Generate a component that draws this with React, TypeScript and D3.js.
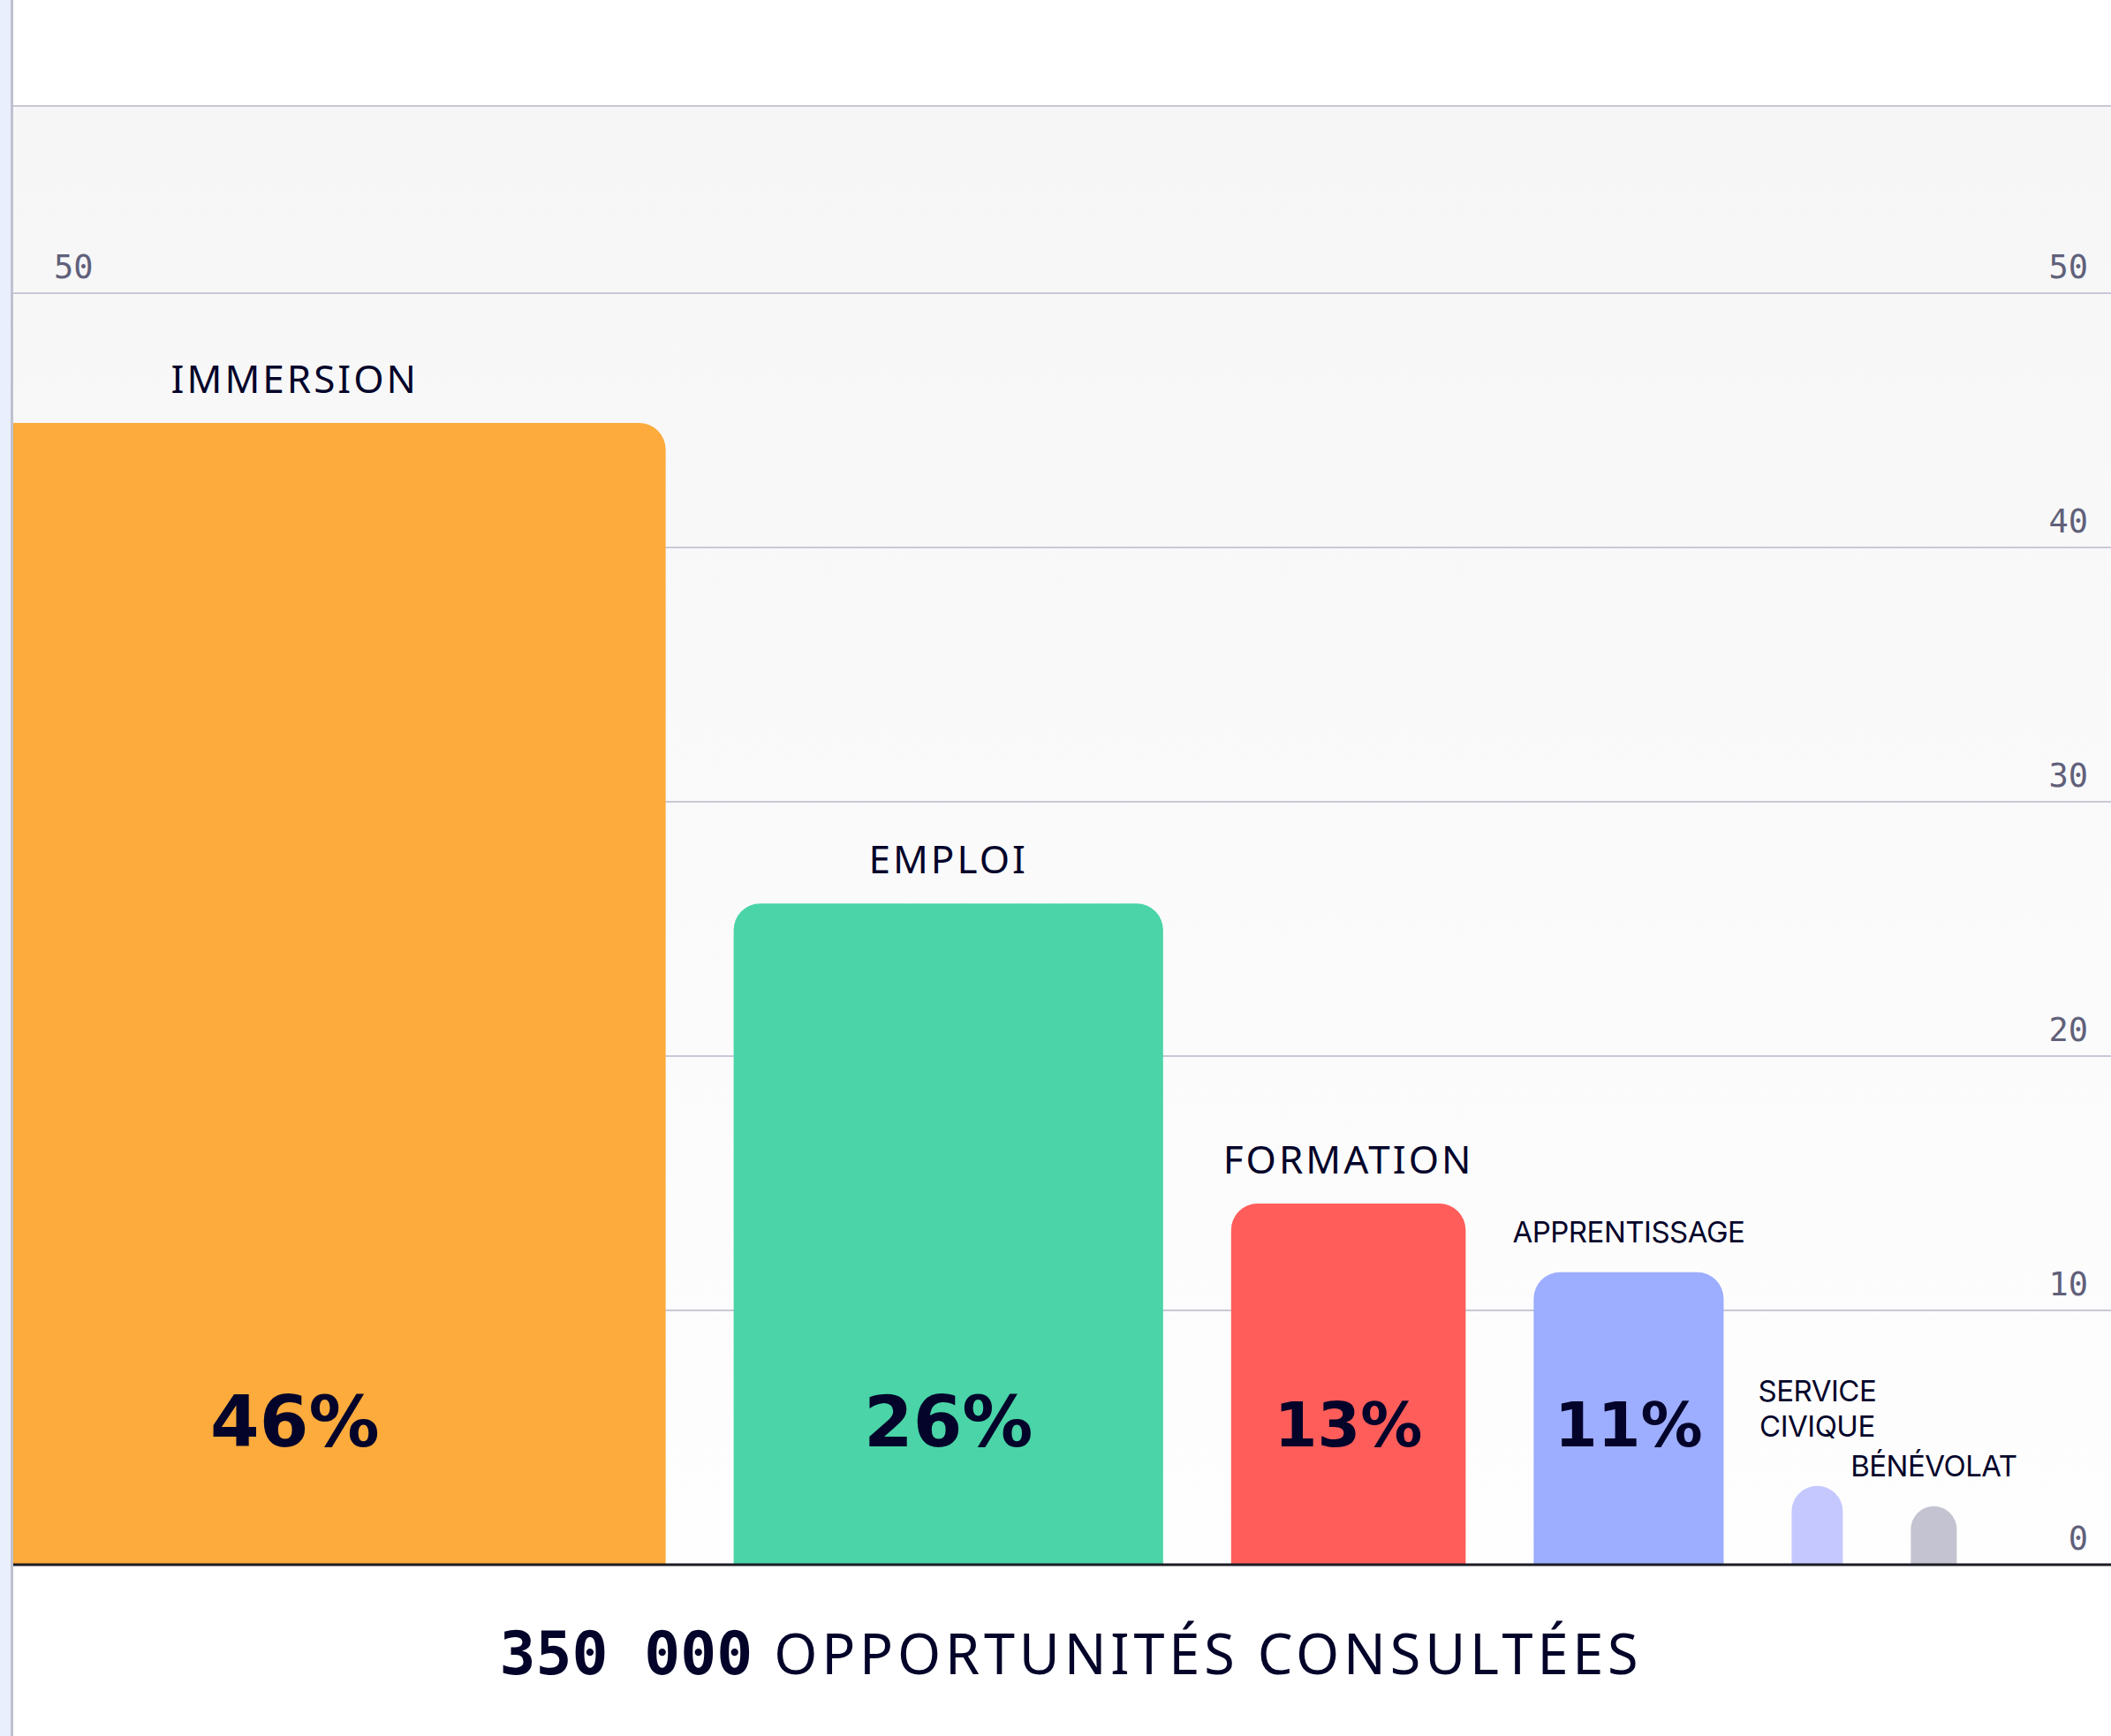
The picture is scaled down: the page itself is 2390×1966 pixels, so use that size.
import React, { useEffect, useRef } from "react";
import * as d3 from "d3";

// chart data
const categories = ["IMMERSION", "EMPLOI", "FORMATION", "APPRENTISSAGE", "SERVICE CIVIQUE", "BÉNÉVOLAT"];
const values = [44.9, 26.0, 14.2, 11.5, 3.1, 2.3];
const shares = [46, 26, 13, 11, null, null];
const colors = ["#fcab3c", "#4ad4a7", "#ff5d5a", "#9dadff", "#c5c8ff", "#c3c3d1"];
const yTicks = [0, 10, 20, 30, 40, 50];
const totalLabel = "350 000";
const captionLabel = "OPPORTUNITÉS CONSULTÉES";

const W = 2390;
const H = 1966;
const INK = "#04042a";

const drawChart = (node: SVGSVGElement) => {
    const svg = d3.select(node);
    svg.selectAll("*").remove();

    const plotLeft = 15;
    const plotTop = 120;
    const baseY = 1772;

    // value axis
    const y = d3.scaleLinear().domain([0, 50]).range([baseY, 332]);

    // bar widths grow with the value, with a minimum for tiny bars
    const wScale = d3.scaleLinear().domain([0, 1]).range([0, 18.7]);
    const gap = 77;
    const minW = 52;
    let cursor = -86;
    const bars = values.map((v, i) => {
        const w = Math.max(minW, wScale(v));
        const b = { i, v, x: cursor, w, name: categories[i], share: shares[i], color: colors[i] };
        cursor += w + gap;
        return b;
    });

    // background
    const defs = svg.append("defs");
    const grad = defs.append("linearGradient").attr("id", "bg").attr("x1", 0).attr("x2", 0).attr("y1", 0).attr("y2", 1);
    grad.append("stop").attr("offset", "0%").attr("stop-color", "#f6f6f7");
    grad.append("stop").attr("offset", "100%").attr("stop-color", "#fefefe");
    defs.append("clipPath").attr("id", "plotClip")
        .append("rect").attr("x", plotLeft).attr("y", 0).attr("width", W - plotLeft).attr("height", H);

    svg.append("rect").attr("width", W).attr("height", H).attr("fill", "#ffffff");
    svg.append("rect")
        .attr("x", plotLeft).attr("y", plotTop)
        .attr("width", W - plotLeft).attr("height", baseY - plotTop)
        .attr("fill", "url(#bg)");

    // left strip
    svg.append("rect").attr("x", 0).attr("y", 0).attr("width", 12).attr("height", H).attr("fill", "#e9effd");
    svg.append("line").attr("x1", 13.5).attr("x2", 13.5).attr("y1", 0).attr("y2", H)
        .attr("stroke", "#c0c1d0").attr("stroke-width", 3);

    // grid
    const grid = svg.append("g");
    grid.append("line")
        .attr("x1", plotLeft).attr("x2", W).attr("y1", plotTop).attr("y2", plotTop)
        .attr("stroke", "#c8c8d6").attr("stroke-width", 2);
    grid.selectAll(".gl")
        .data(yTicks.filter((t) => t > 0))
        .enter().append("line")
        .attr("x1", plotLeft).attr("x2", W)
        .attr("y1", (d) => y(d)).attr("y2", (d) => y(d))
        .attr("stroke", "#c8c8d6").attr("stroke-width", 2);

    // tick labels (left ones sit under the first bar)
    const tickFont = "'DejaVu Sans Mono', 'Liberation Mono', monospace";
    grid.selectAll(".tl")
        .data(yTicks)
        .enter().append("text")
        .attr("x", 61).attr("y", (d) => y(d) - 17)
        .style("font-family", tickFont).style("font-size", "37px").attr("fill", "#60607a")
        .text((d) => d);
    grid.selectAll(".tr")
        .data(yTicks)
        .enter().append("text")
        .attr("x", 2364).attr("y", (d) => y(d) - 17)
        .attr("text-anchor", "end")
        .style("font-family", tickFont).style("font-size", "37px").attr("fill", "#60607a")
        .text((d) => d);

    // bars with rounded top corners
    const barPath = (b) => {
        const r = Math.min(30, b.w / 2);
        const top = y(b.v);
        const p = d3.path();
        p.moveTo(b.x, baseY);
        p.lineTo(b.x, top + r);
        p.arcTo(b.x, top, b.x + r, top, r);
        p.lineTo(b.x + b.w - r, top);
        p.arcTo(b.x + b.w, top, b.x + b.w, top + r, r);
        p.lineTo(b.x + b.w, baseY);
        p.closePath();
        return p.toString();
    };
    const barG = svg.append("g").attr("clip-path", "url(#plotClip)");
    barG.selectAll("path")
        .data(bars)
        .enter().append("path")
        .attr("d", barPath)
        .attr("fill", (d) => d.color);

    // baseline
    svg.append("line")
        .attr("x1", plotLeft).attr("x2", W).attr("y1", baseY).attr("y2", baseY)
        .attr("stroke", "#1c1c24").attr("stroke-width", 3);

    // category labels
    const labelG = svg.append("g");
    bars.forEach((b) => {
        const cx = b.x + b.w / 2;
        const big = b.w >= 250;
        const lines = big ? [b.name] : b.name.split(" ");
        const lineH = 40;
        const lift = lines.length > 1 ? 56 : 34;
        const lastY = y(b.v) - lift;
        const t = labelG.append("text")
            .attr("text-anchor", "middle")
            .attr("fill", INK)
            .style("font-family", big ? "'Noto Sans', 'Open Sans', sans-serif" : "Inter, 'Noto Sans', sans-serif")
            .style("font-size", big ? "44px" : "33px")
            .style("letter-spacing", big ? "3px" : "-0.5px");
        lines.forEach((ln, k) => {
            t.append("tspan")
                .attr("x", cx)
                .attr("y", lastY - (lines.length - 1 - k) * lineH)
                .text(ln);
        });
    });

    // share labels inside bars
    const shareSize = d3.scaleThreshold<number, number>().domain([400]).range([70, 80]);
    labelG.selectAll(".share")
        .data(bars.filter((b) => b.share != null))
        .enter().append("text")
        .attr("x", (d) => d.x + d.w / 2)
        .attr("y", baseY - 134)
        .attr("text-anchor", "middle")
        .attr("fill", INK)
        .style("font-family", "'DejaVu Sans', sans-serif")
        .style("font-weight", "bold")
        .style("font-size", (d) => shareSize(d.w) + "px")
        .text((d) => d.share + "%");

    // caption under the axis
    const cap = svg.append("text")
        .attr("x", (plotLeft + W) / 2 + 10)
        .attr("y", 1896)
        .attr("text-anchor", "middle")
        .attr("fill", INK);
    cap.append("tspan")
        .style("font-family", "'DejaVu Sans Mono', monospace")
        .style("font-weight", "bold")
        .style("font-size", "68px")
        .text(totalLabel);
    cap.append("tspan")
        .attr("dx", 24)
        .style("font-family", "'Noto Sans', sans-serif")
        .style("font-size", "63px")
        .style("letter-spacing", "4.8px")
        .text(captionLabel);
};

const App = () => {
    const ref = useRef<SVGSVGElement>(null);

    useEffect(() => {
        document.body.style.margin = "0";
        if (ref.current) drawChart(ref.current);
    }, []);

    return <svg ref={ref} width={W} height={H} style={{ display: "block" }} />;
};

export default App;
